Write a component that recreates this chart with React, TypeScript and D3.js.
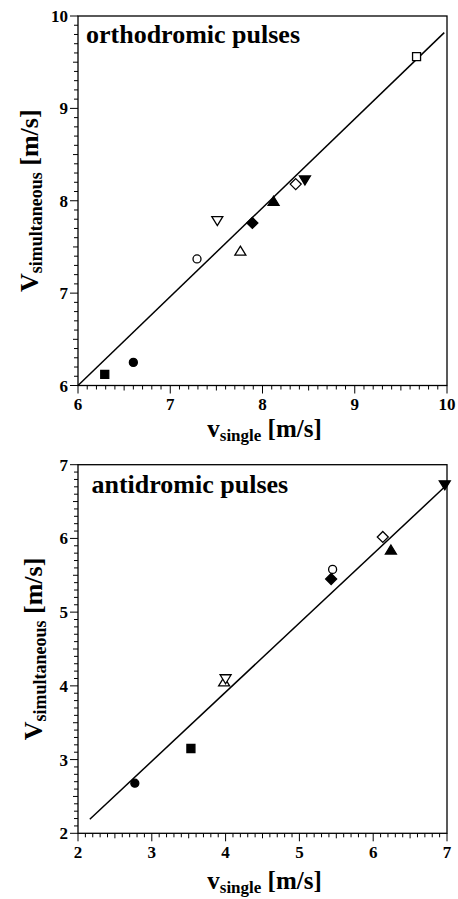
import React from "react";
import * as d3 from "d3";

// ---- data ----
const orthoX = [6.29, 6.6, 7.29, 7.51, 7.76, 7.89, 8.12, 8.36, 8.46, 9.67];
const orthoY = [6.12, 6.25, 7.37, 7.78, 7.46, 7.76, 8.0, 8.18, 8.22, 9.56];
const orthoMarkers = ["squareFilled", "circleFilled", "circleOpen", "downOpen", "upOpen", "diamondFilled", "upFilled", "diamondOpen", "downFilled", "squareOpen"];
const orthoFit = [[6, 6], [9.97, 9.82]];
const orthoTicks = [6, 7, 8, 9, 10];

const antiX = [2.77, 3.53, 3.98, 4.0, 5.45, 5.43, 6.13, 6.24, 6.97];
const antiY = [2.68, 3.15, 4.06, 4.09, 5.58, 5.45, 6.02, 5.85, 6.72];
const antiMarkers = ["circleFilled", "squareFilled", "upOpen", "downOpen", "circleOpen", "diamondFilled", "diamondOpen", "upFilled", "downFilled"];
const antiFit = [[2.16, 2.19], [6.97, 6.7]];
const antiTicks = [2, 3, 4, 5, 6, 7];

const FONT = "'Liberation Serif', 'Times New Roman', serif";

function markerPath(type: string): string {
  if (type.startsWith("square")) return "M-4,-4H4V4H-4Z";
  if (type.startsWith("circle")) return "M4,0A4,4 0 1,1 -4,0A4,4 0 1,1 4,0Z";
  if (type.startsWith("diamond")) return "M0,-5.5L5.5,0L0,5.5L-5.5,0Z";
  if (type.startsWith("up")) return "M0,-4.5L5.5,4.5L-5.5,4.5Z";
  if (type.startsWith("down")) return "M0,4.5L5.5,-4.5L-5.5,-4.5Z";
  return "";
}

type PanelProps = {
  top: number; bottom: number; left: number; right: number;
  domain: [number, number]; ticks: number[];
  xs: number[]; ys: number[]; markers: string[]; fit: number[][];
  title: string; titleX: number; titleY: number;
  yLabelX: number; xLabelY: number; tickLabelY: number;
};

function Panel(p: PanelProps) {
  const x = d3.scaleLinear().domain(p.domain).range([p.left, p.right]);
  const y = d3.scaleLinear().domain(p.domain).range([p.bottom, p.top]);
  const minor = d3.range(p.domain[0] * 10, p.domain[1] * 10 + 1).map((v) => v / 10);
  const line = d3.line<number[]>().x((d) => x(d[0])).y((d) => y(d[1]));
  const cy = (p.top + p.bottom) / 2;
  const cx = (p.left + p.right) / 2;
  return (
    <g>
      {minor.map((v, i) => {
        const isMajor = Math.abs(v - Math.round(v)) < 1e-6;
        const isHalf = Math.abs(v - Math.round(v)) > 0.45;
        const len = isMajor ? 8 : isHalf ? 5 : 4;
        return (
          <g key={i} stroke="#000" strokeWidth={1}>
            <line x1={x(v)} x2={x(v)} y1={p.bottom} y2={p.bottom + len} />
            <line x1={p.left - len} x2={p.left} y1={y(v)} y2={y(v)} />
          </g>
        );
      })}
      <rect x={p.left} y={p.top} width={p.right - p.left} height={p.bottom - p.top} fill="none" stroke="#000" strokeWidth={1.3} />
      {p.ticks.map((t) => (
        <text key={"x" + t} x={x(t)} y={p.tickLabelY} textAnchor="middle" fontFamily={FONT} fontWeight="bold" fontSize={17}>{t}</text>
      ))}
      {p.ticks.map((t) => (
        <text key={"y" + t} x={p.left - 10} y={y(t) + 6} textAnchor="end" fontFamily={FONT} fontWeight="bold" fontSize={17}>{t}</text>
      ))}
      <path d={line(p.fit) || ""} fill="none" stroke="#000" strokeWidth={1.5} />
      {p.xs.map((v, i) => {
        const m = p.markers[i];
        const filled = m.endsWith("Filled");
        return (
          <path key={i} transform={`translate(${x(v)},${y(p.ys[i])})`} d={markerPath(m)}
            fill={filled ? "#000" : "#fff"} stroke="#000" strokeWidth={1.3} />
        );
      })}
      <text x={p.titleX} y={p.titleY} fontFamily={FONT} fontWeight="bold" fontSize={26}>{p.title}</text>
      <text x={cx + 2} y={p.xLabelY} textAnchor="middle" fontFamily={FONT} fontWeight="bold" fontSize={25}>
        v<tspan fontSize={17} dy={4}>single</tspan><tspan dy={-4}> [m/s]</tspan>
      </text>
      <text transform={`translate(${p.yLabelX},${cy}) rotate(-90)`} textAnchor="middle" fontFamily={FONT} fontWeight="bold" fontSize={26}>
        V<tspan fontSize={18} dy={4}>simultaneous</tspan><tspan dy={-4}> [m/s]</tspan>
      </text>
    </g>
  );
}

export default function App() {
  return (
    <svg width={458} height={899} style={{ position: "absolute", left: 0, top: 0, background: "#fff" }}>
      <rect width={458} height={899} fill="#fff" />
      <Panel top={16} bottom={385.5} left={78} right={447} domain={[6, 10]} ticks={orthoTicks}
        xs={orthoX} ys={orthoY} markers={orthoMarkers} fit={orthoFit}
        title="orthodromic pulses" titleX={86} titleY={43} yLabelX={38} xLabelY={437} tickLabelY={410} />
      <Panel top={464.7} bottom={833.3} left={78} right={447} domain={[2, 7]} ticks={antiTicks}
        xs={antiX} ys={antiY} markers={antiMarkers} fit={antiFit}
        title="antidromic pulses" titleX={91.5} titleY={492.5} yLabelX={42} xLabelY={889} tickLabelY={858} />
    </svg>
  );
}
